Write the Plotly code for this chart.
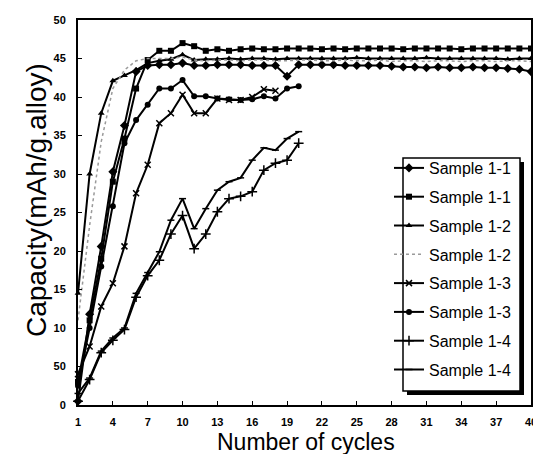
import plotly.graph_objects as go

# ---------------- data ----------------
cycles_long = list(range(1, 41))
cycles_short = list(range(1, 21))
cycles_13a = list(range(1, 19))

s11_diamond = [5, 118, 206, 303, 363, 433, 441, 442, 442, 444,
               441, 441, 442, 442, 442, 441, 441, 441, 427, 442,
               442, 442, 442, 441, 441, 441, 441, 440, 439, 439,
               438, 439, 438, 438, 439, 438, 438, 437, 436, 433]
s11_square = [30, 110, 190, 290, 346, 411, 448, 460, 460, 470,
              466, 460, 462, 460, 462, 463, 462, 462, 463, 463,
              463, 462, 463, 462, 463, 463, 463, 463, 462, 463,
              463, 463, 463, 462, 463, 463, 463, 463, 463, 463]
s12_triangle = [145, 300, 379, 421, 428, 435, 444, 447, 449, 455,
                448, 449, 449, 450, 449, 450, 450, 449, 450, 450,
                450, 450, 450, 450, 451, 450, 450, 450, 450, 450,
                451, 450, 450, 450, 450, 450, 450, 449, 450, 450]
s12_dotted = [110, 233, 342, 411, 435, 447, 450, 450, 450, 452,
              448, 447, 448, 448, 447, 448, 448, 447, 447, 448,
              448, 447, 447, 448, 447, 447, 448, 446, 447, 447,
              446, 447, 447, 446, 447, 447, 446, 447, 447, 446]
s13_x = [40, 76, 128, 158, 206, 275, 312, 366, 379, 403,
         379, 379, 398, 396, 396, 400, 410, 408]
s13_circle = [25, 100, 180, 258, 340, 370, 390, 411, 411, 422,
              401, 401, 398, 397, 396, 397, 401, 398, 411, 414]
s14_plus = [5, 33, 68, 84, 98, 140, 168, 188, 222, 246,
            203, 222, 251, 268, 271, 277, 305, 314, 318, 340]
s14_dash = [15, 35, 70, 87, 100, 145, 172, 199, 240, 268,
            229, 255, 279, 290, 295, 318, 334, 331, 346, 355]

names = ["Sample 1-1", "Sample 1-1", "Sample 1-2", "Sample 1-2",
         "Sample 1-3", "Sample 1-3", "Sample 1-4", "Sample 1-4"]
x_ticks = [1, 4, 7, 10, 13, 16, 19, 22, 25, 28, 31, 34, 37, 40]
y_tickvals = [0, 50, 100, 150, 200, 250, 300, 350, 400, 450, 500]
y_ticktext = ["0", "50", "10", "15", "20", "25", "30", "35", "40", "45", "50"]

# ---------------- geometry helpers ----------------
W, H = 541, 454
ML, MR, MT, MB = 70, 18, 12, 57
PW, PH = W - ML - MR, H - MT - MB


def px_x(p):
    return (p - ML) / PW


def px_y(p):
    return (H - MB - p) / PH


fig = go.Figure()

series = [
    (cycles_long, s11_diamond, dict(symbol="diamond", size=7), dict(color="black", width=2)),
    (cycles_long, s11_square, dict(symbol="square", size=6), dict(color="black", width=2)),
    (cycles_long, s12_triangle, dict(symbol="triangle-up", size=6), dict(color="black", width=2)),
    (cycles_long, s12_dotted, None, dict(color="#9a9a9a", width=1.5, dash="dot")),
    (cycles_13a, s13_x, dict(symbol="x-thin", size=6, line=dict(color="black", width=1.5)), dict(color="black", width=2)),
    (cycles_short, s13_circle, dict(symbol="circle", size=6), dict(color="black", width=2)),
    (cycles_short, s14_plus, dict(symbol="cross-thin", size=7, line=dict(color="black", width=1.5)), dict(color="black", width=2)),
    (cycles_short, s14_dash, dict(symbol="line-ew", size=5, line=dict(color="black", width=1.5)), dict(color="black", width=2)),
]

for i, (xs, ys, mk, ln) in enumerate(series):
    if mk is None:
        fig.add_trace(go.Scatter(x=xs, y=ys, mode="lines", name=names[i], line=ln,
                                 legendgroup="g%d" % i, cliponaxis=False))
    else:
        mk = dict(mk)
        mk.setdefault("color", "black")
        fig.add_trace(go.Scatter(x=xs, y=ys, mode="lines+markers", name=names[i],
                                 line=ln, marker=mk, legendgroup="g%d" % i, cliponaxis=False))

# legend box with drop shadow
bx0, bx1, by0, by1 = 395, 512, 150, 383
fig.add_shape(type="rect", xref="paper", yref="paper",
              x0=px_x(bx0 + 4), x1=px_x(bx1 + 4), y0=px_y(by1 + 4), y1=px_y(by0 + 4),
              fillcolor="black", line=dict(width=0), layer="above")
fig.add_shape(type="rect", xref="paper", yref="paper",
              x0=px_x(bx0), x1=px_x(bx1), y0=px_y(by1), y1=px_y(by0),
              fillcolor="white", line=dict(color="black", width=1.5), layer="above")

fig.update_layout(
    width=W, height=H,
    margin=dict(l=ML, r=MR, t=MT, b=MB, autoexpand=False),
    paper_bgcolor="white", plot_bgcolor="white",
    showlegend=True,
    legend=dict(x=px_x(381), y=px_y(143), xanchor="left", yanchor="top",
                bgcolor="rgba(0,0,0,0)", borderwidth=0,
                font=dict(family="Liberation Sans, Arial, sans-serif", size=16, color="black"),
                tracegroupgap=5, traceorder="grouped", itemwidth=30),
    xaxis=dict(range=[1, 40], tickvals=x_ticks, ticks="inside", ticklen=4,
               tickcolor="black", showline=True, linecolor="black", linewidth=2,
               mirror=True, showgrid=False, zeroline=False, ticklabelstandoff=6,
               tickfont=dict(family="Liberation Sans, Arial, sans-serif", size=11,
                             color="black", weight="bold")),
    yaxis=dict(range=[0, 500], tickvals=y_tickvals, ticktext=y_ticktext,
               ticks="inside", ticklen=4, tickcolor="black", showline=True,
               linecolor="black", linewidth=2, mirror=True, showgrid=False,
               zeroline=False, ticklabelstandoff=8,
               tickfont=dict(family="Liberation Sans, Arial, sans-serif", size=11,
                             color="black", weight="bold")),
    annotations=[
        dict(text="Number of cycles", xref="paper", yref="paper",
             x=px_x(298), y=px_y(434), xanchor="center", yanchor="middle",
             showarrow=False,
             font=dict(family="Liberation Sans, Arial, sans-serif", size=23, color="black")),
        dict(text="Capacity(mAh/g.alloy)", xref="paper", yref="paper",
             x=px_x(28), y=px_y(192), xanchor="center", yanchor="middle",
             textangle=-90, showarrow=False,
             font=dict(family="Liberation Sans, Arial, sans-serif", size=28, color="black")),
    ],
)

fig.write_html("out.html")
